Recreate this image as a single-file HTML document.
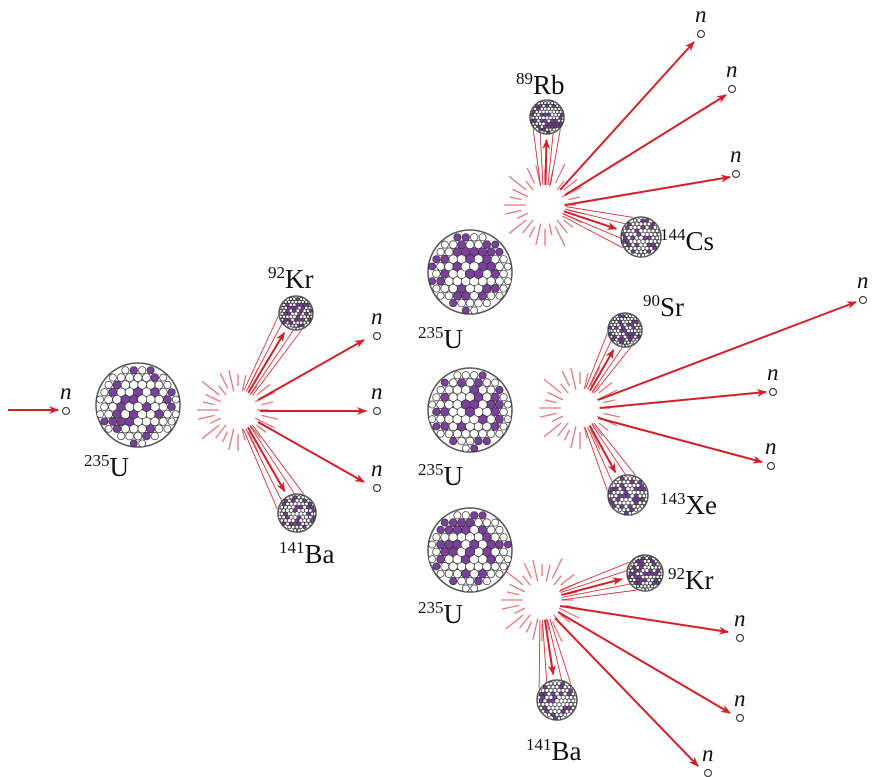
<!DOCTYPE html><html><head><style>body{margin:0;background:#fff}svg{display:block}
text{font-family:"Liberation Serif",serif;fill:#111}
.n{font-style:italic;font-size:23px}.l{font-size:27px}.s{font-size:17px}</style></head><body>
<svg id="s" width="880" height="777" viewBox="0 0 880 777" xmlns="http://www.w3.org/2000/svg">
<defs><marker id="a" markerWidth="10" markerHeight="8" refX="9" refY="4" orient="auto" markerUnits="userSpaceOnUse"><path d="M0,0L10,4L0,8L3,4z" fill="#d0202a"/></marker></defs>
</svg>
<script>
var S=document.getElementById('s'),NS='http://www.w3.org/2000/svg';
function el(t,a,txt){var e=document.createElementNS(NS,t);for(var k in a)e.setAttribute(k,a[k]);if(txt)e.textContent=txt;S.appendChild(e);return e;}
var seed=1;function rnd(){seed++;var x=Math.sin(seed*12.9898+78.233)*43758.5453;return x-Math.floor(x);}
function nuc(cx,cy,r){el('circle',{cx:cx,cy:cy,r:r,fill:'#fff',stroke:'#555','stroke-width':1.5});var d=r*0.2,pts=[];
for(var y=-r;y<=r+0.01;y+=d*0.87){for(var x=-r-d;x<=r+d;x+=d){var xx=x+((Math.round((y+r)/(d*0.87))%2)?d/2:0);var q=Math.sqrt(xx*xx+y*y);if(q>r-d*0.3)continue;pts.push([xx,y,q]);}}
pts.sort(function(a,b){return b[2]-a[2];});
pts.forEach(function(p){var f=1-0.3*Math.pow(p[2]/r,2);el('circle',{cx:cx+p[0],cy:cy+p[1],r:d*0.56*f,fill:rnd()<0.35?'#7b3f9e':'#fff',stroke:'#333','stroke-width':0.7});});}
function burst(cx,cy){for(var i=0;i<28;i++){var t=i/28*2*Math.PI,r1=19+(i%2?5:0),r2=r1+12+(i%3)*5;
el('line',{x1:cx+r1*Math.cos(t),y1:cy+r1*Math.sin(t),x2:cx+r2*Math.cos(t),y2:cy+r2*Math.sin(t),stroke:'#e07a80','stroke-width':1.3});}}
function arr(x1,y1,x2,y2){el('line',{x1:x1,y1:y1,x2:x2,y2:y2,stroke:'#d0202a','stroke-width':2,'marker-end':'url(#a)'});}
function frag(cx,cy,fx,fy,fr){var dx=fx-cx,dy=fy-cy,L=Math.hypot(dx,dy),ux=dx/L,uy=dy/L,px=-uy,py=ux;
[-1,-0.5,0.5,1].forEach(function(o){el('line',{x1:cx+ux*20+px*o*5,y1:cy+uy*20+py*o*5,x2:fx-ux*fr*0.7+px*o*fr*0.8,y2:fy-uy*fr*0.7+py*o*fr*0.8,stroke:'#d0202a','stroke-width':0.8});});
arr(cx+ux*20,cy+uy*20,cx+ux*(L-fr-6),cy+uy*(L-fr-6));}
function nn(x,y){el('circle',{cx:x,cy:y,r:3.5,fill:'#fff',stroke:'#444','stroke-width':1.2});el('text',{x:x-6,y:y-12,'class':'n'},'n');}
function lab(x,y,sup,t){var e=el('text',{x:x,y:y,'class':'l'});var a=document.createElementNS(NS,'tspan');a.setAttribute('class','s');a.setAttribute('dy','-10');a.textContent=sup;e.appendChild(a);var b=document.createElementNS(NS,'tspan');b.setAttribute('dy','10');b.textContent=t;e.appendChild(b);}
arr(8,410,58,410);nn(66,411);
nuc(138,405,42);lab(84,476,'235','U');
burst(238,410);
frag(238,410,296,313,17);nuc(296,313,17);lab(268,288,'92','Kr');
frag(238,410,297,513,19);nuc(297,513,19);lab(279,563,'141','Ba');
arr(258,400,364,340);arr(260,411,366,411);arr(258,422,364,482);
nn(377,336);nn(377,411);nn(377,488);
burst(545,205);
frag(545,205,547,117,17);nuc(547,117,17);lab(516,94,'89','Rb');
frag(545,205,641,237,20);nuc(641,237,20);lab(660,250,'144','Cs');
arr(560,190,694,42);arr(565,195,726,95);arr(565,205,730,177);
nn(701,34);nn(732,89);nn(736,174);
burst(580,408);
frag(580,408,625,330,17);nuc(625,330,17);lab(643,316,'90','Sr');
frag(580,408,628,495,20);nuc(628,495,20);lab(660,514,'143','Xe');
arr(598,400,856,302);arr(600,408,766,392);arr(598,418,762,462);
nn(863,300);nn(773,392);nn(771,466);
burst(542,600);
frag(542,600,645,573,18);nuc(645,573,18);lab(668,589,'92','Kr');
frag(542,600,557,700,20);nuc(557,700,20);lab(526,760,'141','Ba');
arr(560,606,728,632);arr(558,612,730,713);arr(555,618,698,766);
nn(740,638);nn(740,718);nn(708,773);
nuc(470,272,42);lab(418,348,'235','U');
nuc(470,410,42);lab(418,485,'235','U');
nuc(470,550,42);lab(418,623,'235','U');
</script></body></html>
